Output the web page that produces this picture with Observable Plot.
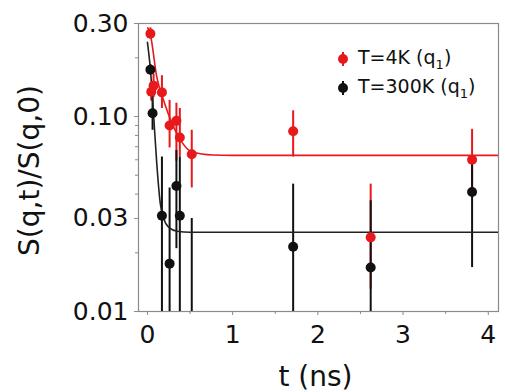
<!DOCTYPE html>
<html>
<head>
<meta charset="utf-8">
<script src="https://cdn.jsdelivr.net/npm/d3@7"></script>
<script src="https://cdn.jsdelivr.net/npm/@observablehq/plot@0.6"></script>
<style>
  body { margin: 0; background: #fff; }
  #wrap { position: relative; width: 505px; height: 392px; font-family: "DejaVu Sans", sans-serif; }
  #legend { position: absolute; left: 335px; top: 44px; font-size: 19px; color: #111; }
  .row { display: flex; align-items: center; height: 29px; }
  .row svg { margin-right: 7px; }
  sub { font-size: 13px; }
</style>
</head>
<body>
<div id="wrap"><div id="legend"></div></div>
<script>
// ---- data ----
const seriesNames = ["T=4K", "T=300K"];
const seriesColors = ["#e8191c", "#111111"];

// T = 4K (red)
const tRed  = [0.035, 0.045, 0.072, 0.17, 0.26, 0.34, 0.38, 0.52, 1.71, 2.62, 3.81];
const vRed  = [0.266, 0.134, 0.144, 0.133, 0.090, 0.095, 0.078, 0.064, 0.084, 0.024, 0.060];
const loRed = [0.25, 0.12, 0.125, 0.110, 0.069, 0.059, 0.062, 0.043, 0.062, 0.013, 0.042];
const hiRed = [0.285, 0.15, 0.165, 0.162, 0.121, 0.117, 0.110, 0.085, 0.107, 0.045, 0.086];

// T = 300K (black)
const tBlk  = [0.035, 0.06, 0.17, 0.26, 0.34, 0.38, 0.52, 1.71, 2.62, 3.81];
const vBlk  = [0.174, 0.104, 0.031, 0.0176, 0.044, 0.031, null, 0.0215, 0.0168, 0.041];
const loBlk = [0.165, 0.085, 0.005, 0.005, 0.021, 0.005, 0.005, 0.005, 0.005, 0.0168];
const hiBlk = [0.185, 0.125, 0.062, 0.043, 0.067, 0.062, 0.030, 0.045, 0.037, 0.061];

// fit curves
const fitTRed = [0.005, 0.035, 0.11, 0.19, 0.29, 0.39, 0.52, 0.77, 1.0, 4.12];
const fitVRed = [0.285, 0.262, 0.159, 0.121, 0.092, 0.0755, 0.066, 0.0635, 0.0632, 0.0632];
const fitTBlk = [0.0, 0.035, 0.074, 0.11, 0.15, 0.19, 0.25, 0.35, 0.5, 4.12];
const fitVBlk = [0.24, 0.174, 0.099, 0.057, 0.036, 0.030, 0.027, 0.0258, 0.0255, 0.0255];

// axis ticks
const yTicks = [0.01, 0.03, 0.1, 0.3];
const yMinor = [0.02, 0.04, 0.05, 0.06, 0.07, 0.08, 0.09, 0.2];
const xTicks = [0, 1, 2, 3, 4];
const xMinor = [0.5, 1.5, 2.5, 3.5];

// ---- build tables ----
const red = tRed.map((t, i) => ({t, v: vRed[i], lo: loRed[i], hi: hiRed[i]}));
const blk = tBlk.map((t, i) => ({t, v: vBlk[i], lo: loBlk[i], hi: hiBlk[i]}));
const fitRed = fitTRed.map((t, i) => ({t, v: fitVRed[i]}));
const fitBlk = fitTBlk.map((t, i) => ({t, v: fitVBlk[i]}));

const plot = Plot.plot({
  width: 505,
  height: 392,
  marginLeft: 138,
  marginRight: 7,
  marginTop: 23,
  marginBottom: 81,
  style: {fontFamily: "DejaVu Sans, sans-serif", background: "#fff"},
  x: {domain: [-0.105, 4.12]},
  y: {type: "log", domain: [0.01, 0.3]},
  marks: [
    Plot.frame({stroke: "#8a8a8a", strokeWidth: 1.2}),
    Plot.axisY(yMinor, {tickSize: 3, stroke: "#8a8a8a", text: null, label: null}),
    Plot.axisY(yTicks, {tickSize: 4, tickPadding: 6, stroke: "#8a8a8a", fill: "#111", fontSize: 25, tickFormat: d3.format(".2f"), label: null}),
    Plot.axisX(xMinor, {tickSize: 3, stroke: "#8a8a8a", text: null, label: null}),
    Plot.axisX(xTicks, {tickSize: 4, tickPadding: 10, stroke: "#8a8a8a", fill: "#111", fontSize: 25, label: null}),
    Plot.ruleX(red, {x: "t", y1: "lo", y2: "hi", stroke: seriesColors[0], strokeWidth: 2, clip: true}),
    Plot.ruleX(blk, {x: "t", y1: "lo", y2: "hi", stroke: seriesColors[1], strokeWidth: 2, clip: true}),
    Plot.line(fitRed, {x: "t", y: "v", stroke: seriesColors[0], strokeWidth: 1.6, curve: "monotone-x", clip: true}),
    Plot.line(fitBlk, {x: "t", y: "v", stroke: "#222", strokeWidth: 1.6, curve: "monotone-x", clip: true}),
    Plot.dot(red, {x: "t", y: "v", r: 5, fill: seriesColors[0], clip: true}),
    Plot.dot(blk, {x: "t", y: "v", r: 5, fill: seriesColors[1], clip: true}),
    Plot.text(["S(q,t)/S(q,0)"], {text: d => d, frameAnchor: "left", textAnchor: "middle", lineAnchor: "middle", rotate: -90, dx: -108, dy: 3, fontSize: 28, fill: "#111"}),
    Plot.text(["t (ns)"], {text: d => d, frameAnchor: "bottom", textAnchor: "middle", lineAnchor: "middle", dx: -3, dy: 66, fontSize: 28, fill: "#111"})
  ]
});
document.getElementById("wrap").prepend(plot);

// legend
const legend = d3.select("#legend");
seriesNames.forEach((name, i) => {
  const row = legend.append("div").attr("class", "row");
  const s = row.append("svg").attr("width", 16).attr("height", 20);
  s.append("line").attr("x1", 8).attr("x2", 8).attr("y1", 3).attr("y2", 17)
    .attr("stroke", seriesColors[i]).attr("stroke-width", 2);
  s.append("circle").attr("cx", 8).attr("cy", 10).attr("r", 5).attr("fill", seriesColors[i]);
  row.append("span").html(name + " (q<sub>1</sub>)");
});
</script>
</body>
</html>
